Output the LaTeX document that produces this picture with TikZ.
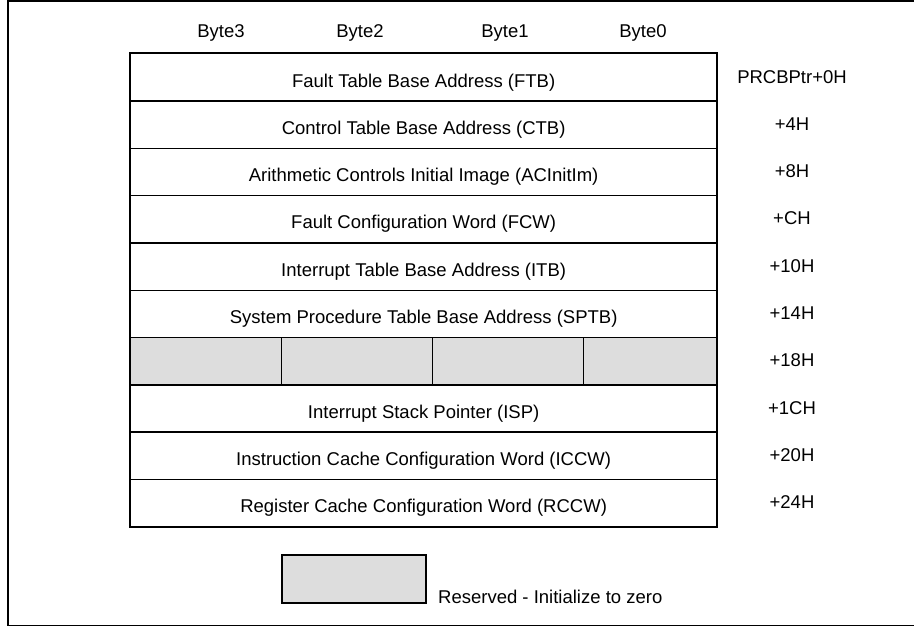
\documentclass[tikz,border=0pt]{standalone}
\usepackage{fontspec}
\setmainfont{Liberation Sans}
\begin{document}
\begin{tikzpicture}[x=1pt,y=-1pt,
  font=\fontsize{18.5}{22}\selectfont,
  rowbox/.style={draw, line width=1.3pt, minimum width=586pt, minimum height=47.3pt,
                 inner sep=0pt, anchor=north west},
  cellbox/.style={draw, line width=1.3pt, fill=resgray, minimum height=47.3pt,
                  inner sep=0pt, anchor=north west},
  rowtext/.style={anchor=base, inner sep=0pt},
  offtext/.style={anchor=base, inner sep=0pt},
  bytetext/.style={anchor=base, inner sep=0pt}]
\definecolor{resgray}{HTML}{DDDDDD}
\useasboundingbox (0,0) rectangle (914,627);

% page frame (left, top and bottom edges)
\coordinate (ftr) at (914,0.75);
\coordinate (ftl) at (8,0.75);
\coordinate (fbl) at (8,625.5);
\coordinate (fbr) at (914,625.5);
\draw[line width=1.5pt] (ftr) -- (ftl) -- (fbl) -- (fbr);

% byte column headings
\node[bytetext] (b3) at (221,37) {Byte3};
\node[bytetext] (b2) at (360,37) {Byte2};
\node[bytetext] (b1) at (505,37) {Byte1};
\node[bytetext] (b0) at (643,37) {Byte0};

% register rows
\node[rowbox] (r0) at (130,53.0)  {};
\node[rowbox] (r1) at (130,100.3) {};
\node[rowbox] (r2) at (130,147.6) {};
\node[rowbox] (r3) at (130,194.9) {};
\node[rowbox] (r4) at (130,242.2) {};
\node[rowbox] (r5) at (130,289.5) {};
\node[cellbox, minimum width=151pt] (c3) at (130,336.8) {};
\node[cellbox, minimum width=151pt] (c2) at (281,336.8) {};
\node[cellbox, minimum width=151pt] (c1) at (432,336.8) {};
\node[cellbox, minimum width=133pt] (c0) at (583,336.8) {};
\node[rowbox] (r7) at (130,384.1) {};
\node[rowbox] (r8) at (130,431.4) {};
\node[rowbox] (r9) at (130,478.7) {};
\draw[line width=2.2pt] (r0.north west) rectangle (r9.south east);
\draw[line width=2pt] (c3.south west) -- (c0.south east);

% row contents
\path (r0.north) ++(0,34) node[rowtext] {Fault Table Base Address (FTB)};
\path (r1.north) ++(0,34) node[rowtext] {Control Table Base Address (CTB)};
\path (r2.north) ++(0,34) node[rowtext] {Arithmetic Controls Initial Image (ACInitIm)};
\path (r3.north) ++(0,34) node[rowtext] {Fault Configuration Word (FCW)};
\path (r4.north) ++(0,34) node[rowtext] {Interrupt Table Base Address (ITB)};
\path (r5.north) ++(0,34) node[rowtext] {System Procedure Table Base Address (SPTB)};
\path (r7.north) ++(0,34) node[rowtext] {Interrupt Stack Pointer (ISP)};
\path (r8.north) ++(0,34) node[rowtext] {Instruction Cache Configuration Word (ICCW)};
\path (r9.north) ++(0,34) node[rowtext] {Register Cache Configuration Word (RCCW)};

% address offsets
\node[offtext] (o0) at (792,83.0)  {PRCBPtr+0H};
\node[offtext] (o1) at (792,130.3) {+4H};
\node[offtext] (o2) at (792,177.6) {+8H};
\node[offtext] (o3) at (792,224.9) {+CH};
\node[offtext] (o4) at (792,272.2) {+10H};
\node[offtext] (o5) at (792,319.5) {+14H};
\node[offtext] (o6) at (792,366.8) {+18H};
\node[offtext] (o7) at (792,414.1) {+1CH};
\node[offtext] (o8) at (792,461.4) {+20H};
\node[offtext] (o9) at (792,508.7) {+24H};

% legend
\node[draw, line width=1.8pt, fill=resgray, minimum width=144pt, minimum height=48pt,
      inner sep=0pt, anchor=north west] (legend) at (281,554) {};
\node[anchor=base west, inner sep=0pt] (legendtext) at (438,603) {Reserved - Initialize to zero};
\end{tikzpicture}
\end{document}
